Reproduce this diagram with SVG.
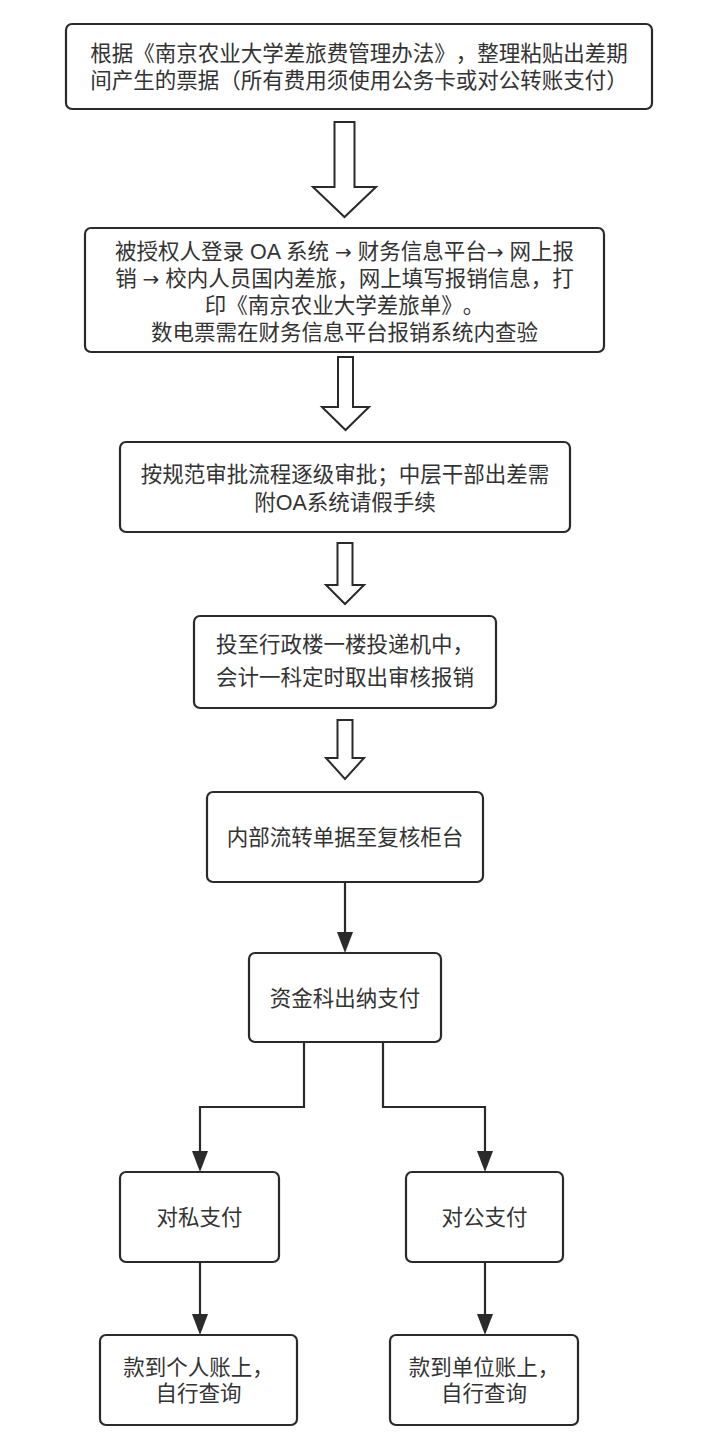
<svg xmlns="http://www.w3.org/2000/svg" width="703" height="1456" viewBox="0 0 703 1456">
<defs>
<style>
.box{fill:#ffffff;stroke:#2a2a2a;stroke-width:2.2}
.blk{fill:#ffffff;stroke:#2a2a2a;stroke-width:2;stroke-linejoin:miter}
.ln{fill:none;stroke:#2a2a2a;stroke-width:2.2}
.hd{fill:#2a2a2a}
.t{font-family:"Liberation Sans","Noto Sans CJK SC",sans-serif;font-size:21.5px;fill:#333333;text-anchor:middle;text-spacing-trim:space-all}
.ar{font-family:"DejaVu Sans",sans-serif;font-size:20px}
</style>
</defs>
<rect width="703" height="1456" fill="#ffffff"/>

<g id="connectors">
<polygon class="blk" points="334.5,122 354.5,122 354.5,187 376,187 344.5,217 313,187 334.5,187"/>
<polygon class="blk" points="338,357 353,357 353,407 369,407 345.5,430 322,407 338,407"/>
<polygon class="blk" points="337.5,543 352.5,543 352.5,585 364,585 345,604 326,585 337.5,585"/>
<polygon class="blk" points="337.5,720 352.5,720 352.5,758 364,758 345,779 326,758 337.5,758"/>
<line class="ln" x1="345" y1="882" x2="345" y2="932"/>
<path class="hd" d="M337,932 L353,932 L345,953 Z"/>
<polyline class="ln" points="304,1042 304,1107 200,1107 200,1151"/>
<path class="hd" d="M192,1151 L208,1151 L200,1172 Z"/>
<polyline class="ln" points="383,1042 383,1107 485,1107 485,1151"/>
<path class="hd" d="M477,1151 L493,1151 L485,1172 Z"/>
<line class="ln" x1="200" y1="1262" x2="200" y2="1314"/>
<path class="hd" d="M192,1314 L208,1314 L200,1335 Z"/>
<line class="ln" x1="485" y1="1262" x2="485" y2="1314"/>
<path class="hd" d="M477,1314 L493,1314 L485,1335 Z"/>
</g>

<g id="n1">
<rect class="box" x="66" y="24" width="586" height="85" rx="6"/>
<text class="t" x="359" y="61">根据《南京农业大学差旅费管理办法》，整理粘贴出差期</text>
<text class="t" x="359" y="88">间产生的票据（所有费用须使用公务卡或对公转账支付）</text>
</g>

<g id="n2">
<rect class="box" x="85" y="228" width="519" height="124" rx="6"/>
<text class="t" x="344.5" y="259">被授权人登录 OA 系统 <tspan class="ar">→</tspan> 财务信息平台<tspan class="ar">→</tspan> 网上报</text>
<text class="t" x="344.5" y="286">销 <tspan class="ar">→</tspan> 校内人员国内差旅，网上填写报销信息，打</text>
<text class="t" x="344.5" y="313">印《南京农业大学差旅单》。</text>
<text class="t" x="344.5" y="340">数电票需在财务信息平台报销系统内查验</text>
</g>

<g id="n3">
<rect class="box" x="120" y="442" width="450" height="90" rx="6"/>
<text class="t" x="345" y="482">按规范审批流程逐级审批；中层干部出差需</text>
<text class="t" x="345" y="510">附OA系统请假手续</text>
</g>

<g id="n4">
<rect class="box" x="194" y="616" width="302" height="92" rx="6"/>
<text class="t" x="345" y="652">投至行政楼一楼投递机中，</text>
<text class="t" x="345" y="685">会计一科定时取出审核报销</text>
</g>

<g id="n5">
<rect class="box" x="207" y="792" width="276" height="90" rx="6"/>
<text class="t" x="345" y="845">内部流转单据至复核柜台</text>
</g>

<g id="n6">
<rect class="box" x="249" y="953" width="192" height="89" rx="6"/>
<text class="t" x="345" y="1006">资金科出纳支付</text>
</g>

<g id="n7">
<rect class="box" x="120" y="1172" width="159" height="90" rx="6"/>
<text class="t" x="199.5" y="1225">对私支付</text>
</g>

<g id="n8">
<rect class="box" x="406" y="1172" width="157" height="90" rx="6"/>
<text class="t" x="484.5" y="1225">对公支付</text>
</g>

<g id="n9">
<rect class="box" x="100" y="1335" width="197" height="90" rx="6"/>
<text class="t" x="198.5" y="1375">款到个人账上，</text>
<text class="t" x="198.5" y="1401">自行查询</text>
</g>

<g id="n10">
<rect class="box" x="390" y="1335" width="188" height="90" rx="6"/>
<text class="t" x="484" y="1375">款到单位账上，</text>
<text class="t" x="484" y="1401">自行查询</text>
</g>
</svg>
